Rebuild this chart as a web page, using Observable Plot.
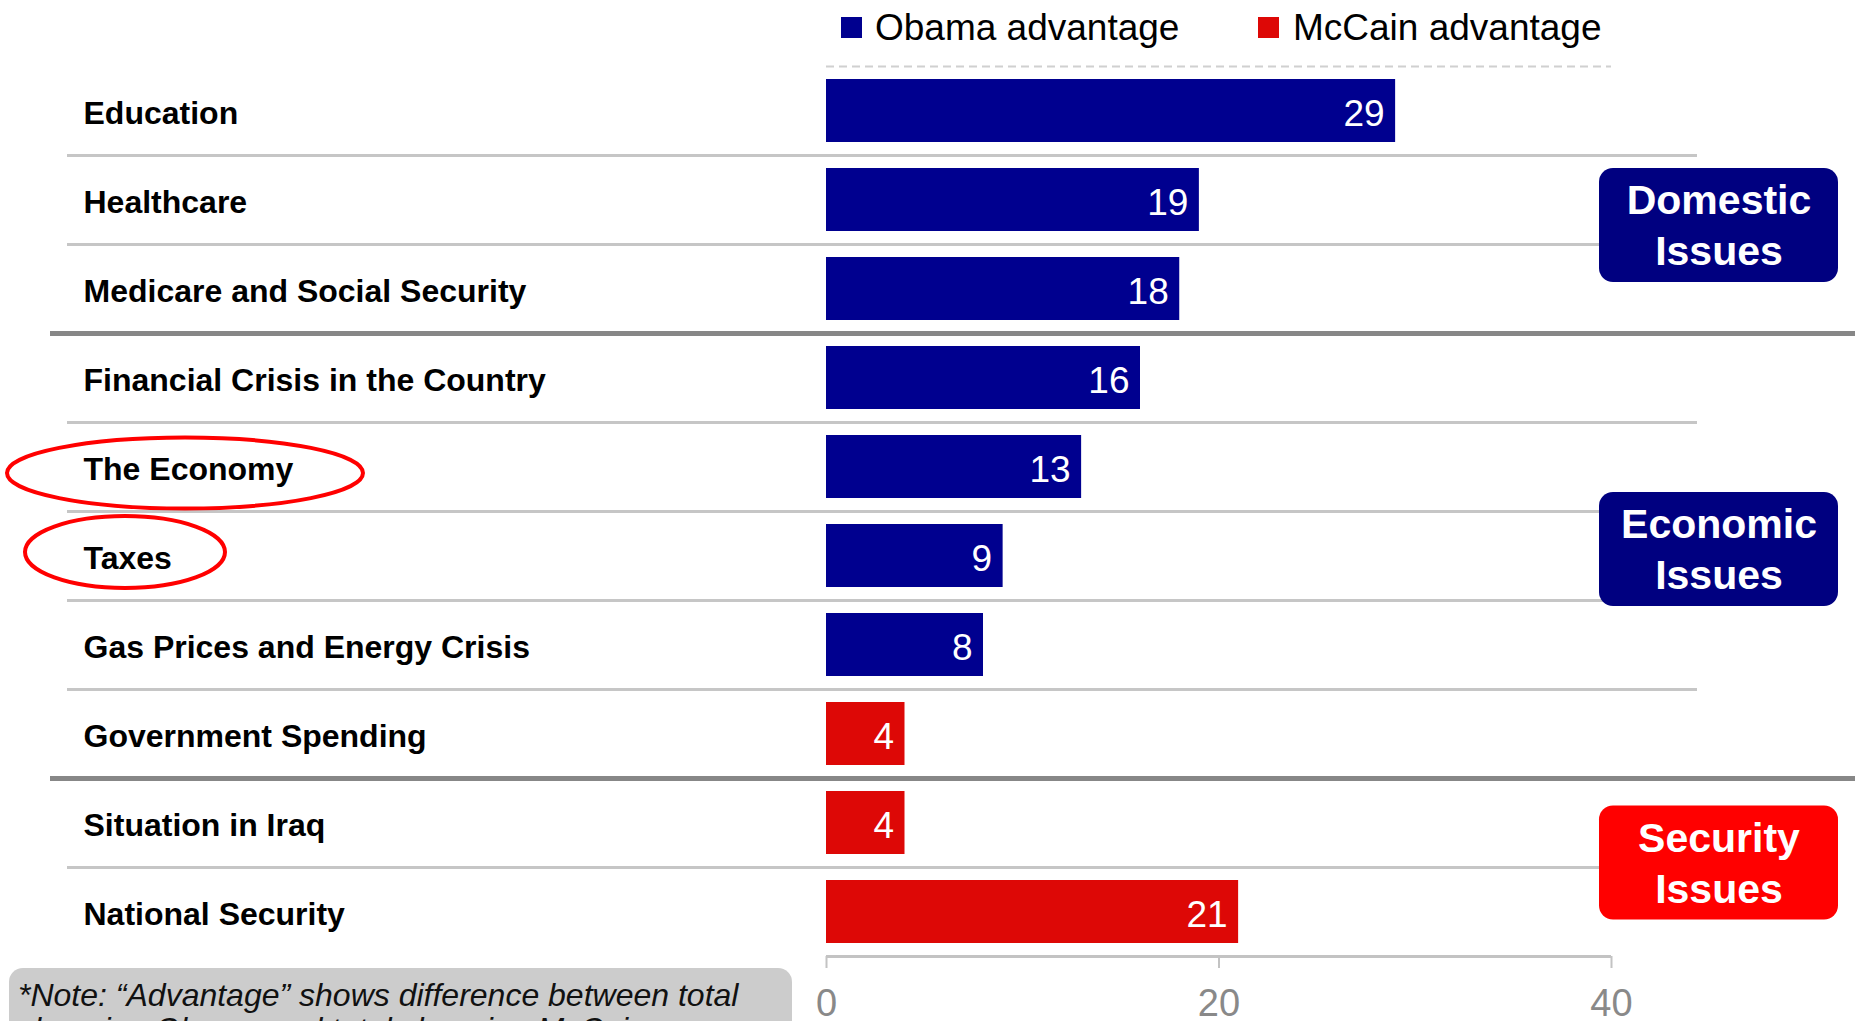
<!DOCTYPE html>
<html>
<head>
<meta charset="utf-8">
<script src="https://cdn.jsdelivr.net/npm/d3@7"></script>
<script src="https://cdn.jsdelivr.net/npm/@observablehq/plot@0.6"></script>
<style>
  html, body { margin: 0; padding: 0; background: #fff; overflow: hidden; }
  #wrap { position: relative; width: 1858px; height: 1021px; font-family: "Liberation Sans", Arial, sans-serif; }
  #chart { position: absolute; left: 0; top: 0; }
  .leg-sq { position: absolute; width: 21px; height: 21px; }
  .leg-tx { position: absolute; font-size: 37px; line-height: 1; color: #000; white-space: nowrap; }
  #note { position: absolute; left: 9px; top: 968px; width: 774px; height: 90px; background: #cccccc;
          border-radius: 14px; padding: 10px 0 0 9px; font-style: italic; font-size: 32px; line-height: 34px; color: #111; }
</style>
</head>
<body>
<div id="wrap">
  <div id="chart"></div>
  <div id="legend"></div>
  <div id="note"></div>
</div>
<script>
// ---- data ----
const categories = [
  "Education",
  "Healthcare",
  "Medicare and Social Security",
  "Financial Crisis in the Country",
  "The Economy",
  "Taxes",
  "Gas Prices and Energy Crisis",
  "Government Spending",
  "Situation in Iraq",
  "National Security"
];
const values = [29, 19, 18, 16, 13, 9, 8, 4, 4, 21];
const advantage = ["Obama", "Obama", "Obama", "Obama", "Obama", "Obama", "Obama", "McCain", "McCain", "McCain"];
const seriesKeys = ["Obama", "McCain"];
const seriesNames = ["Obama advantage", "McCain advantage"];
const seriesColors = ["#00008F", "#DD0806"];
const xTicks = [0, 20, 40];
const groupLabels = ["Domestic\nIssues", "Economic\nIssues", "Security\nIssues"];
const groupAnchors = ["Healthcare", "Taxes", "Situation in Iraq"];
const groupColors = ["#000080", "#000080", "#FF0000"];
const thinAfter = ["Education", "Healthcare", "Financial Crisis in the Country", "The Economy", "Taxes", "Gas Prices and Energy Crisis", "Situation in Iraq"];
const thickAfter = ["Medicare and Social Security", "Government Spending"];
const circled = ["The Economy", "Taxes"];
const noteLines = ["*Note: \u201CAdvantage\u201D shows difference between total", "choosing Obama and total choosing McCain"];

// ---- build ----
const rows = categories.map((c, i) => ({issue: c, value: values[i], side: advantage[i]}));
const groups = groupLabels.map((label, i) => ({label, anchor: groupAnchors[i], color: groupColors[i]}));

const W = 1858, H = 1021;
const step = 89;
const xs = d3.scaleLinear([0, 40], [826, 1611]);
const groupDy = [25.5, -6.5, 40];

const font = "'Liberation Sans', Arial, sans-serif";

const groupMarks = groups.flatMap((g, i) => [
  Plot.barX([g], {x1: xs.invert(1599), x2: xs.invert(1838), y: "anchor", fill: g.color,
                  rx: 14, insetTop: -12.5, insetBottom: -12.5, dy: groupDy[i]}),
  Plot.text([g], {y: "anchor", text: "label", frameAnchor: "right", textAnchor: "middle", dx: -139.5, dy: groupDy[i] - 2,
                  fill: "white", fontWeight: "bold", fontSize: 41, lineHeight: 1.24})
]);

const chart = Plot.plot({
  width: W, height: H,
  marginTop: 66, marginBottom: 65, marginLeft: 0, marginRight: 0,
  x: {domain: [0, 40], range: [826, 1611], axis: null},
  y: {domain: categories, padding: 0, axis: null},
  color: {domain: seriesKeys, range: seriesColors},
  style: {fontFamily: font, background: "transparent", overflow: "visible"},
  marks: [
    Plot.ruleY([categories[0]], {x1: 0, x2: 40, dy: -step / 2, stroke: "#d0d0d0", strokeWidth: 2, strokeDasharray: "8,5"}),
    Plot.ruleY(thinAfter, {dy: step / 2, stroke: "#c6c6c6", strokeWidth: 3, insetLeft: 67, insetRight: 161}),
    Plot.ruleY(thickAfter, {dy: step / 2, stroke: "#878787", strokeWidth: 5, insetLeft: 50, insetRight: 3}),
    Plot.barX(rows, {x: "value", y: "issue", fill: "side", insetTop: 13, insetBottom: 13}),
    Plot.text(rows, {x: "value", y: "issue", text: d => String(d.value), textAnchor: "end", dx: -11, dy: 3,
                     fill: "white", fontSize: 37}),
    Plot.text(categories, {y: d => d, text: d => d, frameAnchor: "left", textAnchor: "start", dx: 83, dy: 3,
                           fontSize: 32, fontWeight: "bold", fill: "#000"}),
    Plot.ruleY([categories[categories.length - 1]], {x1: 0, x2: 40, dy: step / 2, stroke: "#c3c3c3", strokeWidth: 3}),
    Plot.ruleX(xTicks, {x: d => d, stroke: "#c3c3c3", strokeWidth: 2, insetTop: 890, insetBottom: -12}),
    Plot.text(xTicks, {x: d => d, text: d => String(d), frameAnchor: "bottom", dy: 59, fill: "#898989", fontSize: 38}),
    ...groupMarks
  ]
});
document.getElementById("chart").appendChild(chart);

// circled labels (positioned through the plot's y scale)
const yScale = chart.scale("y");
const ellipseSpec = {"The Economy": {cx: 185, rx: 178, ry: 35.5, off: 6.5}, "Taxes": {cx: 125, rx: 100, ry: 36, off: -3.5}};
const svg = d3.select(chart);
circled.forEach(name => {
  const s = ellipseSpec[name];
  const cy = yScale.apply(name) + yScale.bandwidth / 2 + s.off;
  svg.append("ellipse").attr("cx", s.cx).attr("cy", cy).attr("rx", s.rx).attr("ry", s.ry)
    .attr("fill", "none").attr("stroke", "#FF0000").attr("stroke-width", 4);
});

// legend
const legend = document.getElementById("legend");
const legPos = [{sq: 841, tx: 875}, {sq: 1258, tx: 1293}];
seriesNames.forEach((name, i) => {
  const sq = document.createElement("div");
  sq.className = "leg-sq";
  sq.style.left = legPos[i].sq + "px"; sq.style.top = "17px"; sq.style.background = seriesColors[i];
  legend.appendChild(sq);
  const tx = document.createElement("div");
  tx.className = "leg-tx";
  tx.style.left = legPos[i].tx + "px"; tx.style.top = "9px";
  tx.textContent = name;
  legend.appendChild(tx);
});

// note
const note = document.getElementById("note");
noteLines.forEach(l => { const d = document.createElement("div"); d.textContent = l; note.appendChild(d); });
</script>
</body>
</html>
